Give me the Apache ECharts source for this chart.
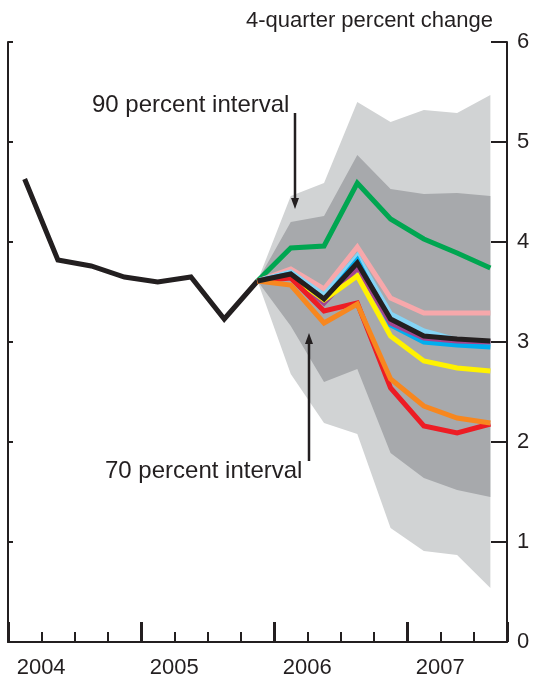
<!DOCTYPE html>
<html>
<head>
<meta charset="utf-8">
<script src="https://cdn.jsdelivr.net/npm/echarts@6/dist/echarts.min.js"></script>
<style>
  html, body { margin: 0; padding: 0; background: #ffffff; }
  #chart { width: 534px; height: 683px; }
</style>
</head>
<body>
<div id="chart"></div>
<script>
// Quarters on the horizontal axis (2004:Q1 through 2007:Q3)
const quarters = ['2004Q1','2004Q2','2004Q3','2004Q4',
                  '2005Q1','2005Q2','2005Q3','2005Q4',
                  '2006Q1','2006Q2','2006Q3','2006Q4',
                  '2007Q1','2007Q2','2007Q3'];
const yTicks = [0, 1, 2, 3, 4, 5, 6];

// Actual history, 4-quarter percent change
const history = [4.63, 3.82, 3.76, 3.65, 3.60, 3.65, 3.23, 3.61];

// Projections start from the last actual quarter (2005Q4)
const green  = [3.61, 3.94, 3.96, 4.59, 4.23, 4.03, 3.89, 3.74];
const pink   = [3.61, 3.73, 3.53, 3.95, 3.44, 3.29, 3.29, 3.29];
const skyBlue= [3.61, 3.70, 3.47, 3.86, 3.28, 3.11, 3.02, 2.97];
const blue   = [3.61, 3.68, 3.42, 3.82, 3.17, 3.00, 2.97, 2.95];
const purple = [3.61, 3.67, 3.39, 3.74, 3.19, 3.04, 3.01, 3.00];
const yellow = [3.61, 3.66, 3.42, 3.66, 3.06, 2.81, 2.74, 2.71];
const red    = [3.61, 3.64, 3.31, 3.39, 2.54, 2.16, 2.09, 2.18];
const orange = [3.61, 3.57, 3.19, 3.38, 2.63, 2.36, 2.24, 2.19];
const black  = [3.61, 3.68, 3.43, 3.79, 3.23, 3.06, 3.03, 3.01];

// Confidence bands
const upper90 = [3.61, 4.46, 4.59, 5.40, 5.20, 5.32, 5.29, 5.47];
const upper70 = [3.61, 4.20, 4.26, 4.87, 4.53, 4.48, 4.49, 4.46];
const lower70 = [3.61, 3.16, 2.60, 2.73, 1.89, 1.64, 1.52, 1.45];
const lower90 = [3.61, 2.68, 2.19, 2.08, 1.14, 0.91, 0.87, 0.54];

const INK = '#231f20';
const startIdx = history.length - 1;

// pad a projection to the full quarter axis
function pad(arr) {
  const out = quarters.map(() => '-');
  arr.forEach((v, i) => { out[startIdx + i] = v; });
  return out;
}
function span(hi, lo) {
  return pad(hi.map((v, i) => +(v - lo[i]).toFixed(3)));
}

function bandSeries(name, lo, hi, color) {
  return [
    { name: name + 'Base', type: 'line', stack: name, data: pad(lo),
      symbol: 'none', lineStyle: { width: 0, opacity: 0 }, silent: true },
    { name: name, type: 'line', stack: name, data: span(hi, lo),
      symbol: 'none', lineStyle: { width: 0, opacity: 0 },
      areaStyle: { color: color, opacity: 1 }, silent: true }
  ];
}

function lineSeries(name, arr, color) {
  return { name: name, type: 'line', data: pad(arr), symbol: 'none',
           lineStyle: { color: color, width: 5, join: 'miter' }, z: 3 };
}

const chart = echarts.init(document.getElementById('chart'), null, { renderer: 'canvas' });

const FONT = 'Liberation Sans, Arial, sans-serif';
const axisFont = { fontFamily: FONT, fontSize: 22, color: INK };

chart.setOption({
  animation: false,
  backgroundColor: '#ffffff',
  grid: { left: 8, right: 27, top: 42, bottom: 41, containLabel: false },
  xAxis: [
    {
      type: 'category', data: quarters, boundaryGap: true, position: 'bottom',
      axisLine: { show: true, lineStyle: { color: INK, width: 2 } },
      axisTick: { show: true, inside: true, length: 20, lineStyle: { color: INK, width: 3 },
                  interval: (i) => i % 4 === 0 },
      axisLabel: {
        show: true, margin: 15,
        interval: (i) => i % 4 === 0,
        formatter: (v) => '{y|' + v.slice(0, 4) + '}',
        rich: { y: Object.assign({ padding: [0, 0, 0, 33] }, axisFont) }
      },
      splitLine: { show: false }
    },
    {
      type: 'category', data: quarters, boundaryGap: true, position: 'bottom',
      axisLine: { show: false },
      axisTick: { show: true, inside: true, length: 10, lineStyle: { color: INK, width: 2 },
                  interval: 0 },
      axisLabel: { show: false },
      splitLine: { show: false }
    }
  ],
  yAxis: [
    {
      type: 'value', position: 'right', min: yTicks[0], max: yTicks[yTicks.length - 1], interval: 1,
      name: '4-quarter percent change', nameLocation: 'end', nameGap: 10,
      nameTextStyle: Object.assign({ align: 'right', padding: [0, 14, 0, 0] }, axisFont),
      axisLine: { show: true, lineStyle: { color: INK, width: 2 } },
      axisTick: { show: true, inside: true, length: 16, lineStyle: { color: INK, width: 2 } },
      axisLabel: Object.assign({ margin: 10 }, axisFont),
      splitLine: { show: false }
    },
    {
      type: 'value', position: 'left', min: yTicks[0], max: yTicks[yTicks.length - 1], interval: 1,
      axisLine: { show: true, lineStyle: { color: INK, width: 2 } },
      axisTick: { show: true, inside: true, length: 5, lineStyle: { color: INK, width: 2 } },
      axisLabel: { show: false },
      splitLine: { show: false }
    }
  ],
  series: [
    ...bandSeries('band90', lower90, upper90, '#d1d3d4'),
    ...bandSeries('band70', lower70, upper70, '#a7a9ac'),
    { name: 'history', type: 'line', data: history.concat(quarters.slice(history.length).map(() => '-')),
      symbol: 'none', lineStyle: { color: INK, width: 5, join: 'miter' }, z: 3 },
    lineSeries('green', green, '#00a651'),
    lineSeries('pink', pink, '#f7a8ab'),
    lineSeries('skyBlue', skyBlue, '#85d4f5'),
    lineSeries('blue', blue, '#00aeef'),
    lineSeries('purple', purple, '#a3458f'),
    lineSeries('yellow', yellow, '#fff200'),
    lineSeries('red', red, '#ed1c24'),
    lineSeries('orange', orange, '#f7871f'),
    lineSeries('black', black, INK)
  ],
  // interval callouts with arrows, drawn above the bands
  graphic: [
    { type: 'group', z: 100, children: [
      { type: 'text', left: 92, top: 93, z: 100,
        style: { text: '90 percent interval', fill: INK, fontSize: 24, fontFamily: FONT } },
      { type: 'line', z: 100, shape: { x1: 295, y1: 113, x2: 295, y2: 200 },
        style: { stroke: INK, lineWidth: 2.5 } },
      { type: 'polygon', z: 100, shape: { points: [[291, 198], [299, 198], [295, 209]] },
        style: { fill: INK } },
      { type: 'text', left: 105, top: 459, z: 100,
        style: { text: '70 percent interval', fill: INK, fontSize: 24, fontFamily: FONT } },
      { type: 'line', z: 100, shape: { x1: 309, y1: 461, x2: 309, y2: 342 },
        style: { stroke: INK, lineWidth: 2.5 } },
      { type: 'polygon', z: 100, shape: { points: [[305, 344], [313, 344], [309, 333]] },
        style: { fill: INK } }
    ] }
  ]
});
</script>
</body>
</html>
